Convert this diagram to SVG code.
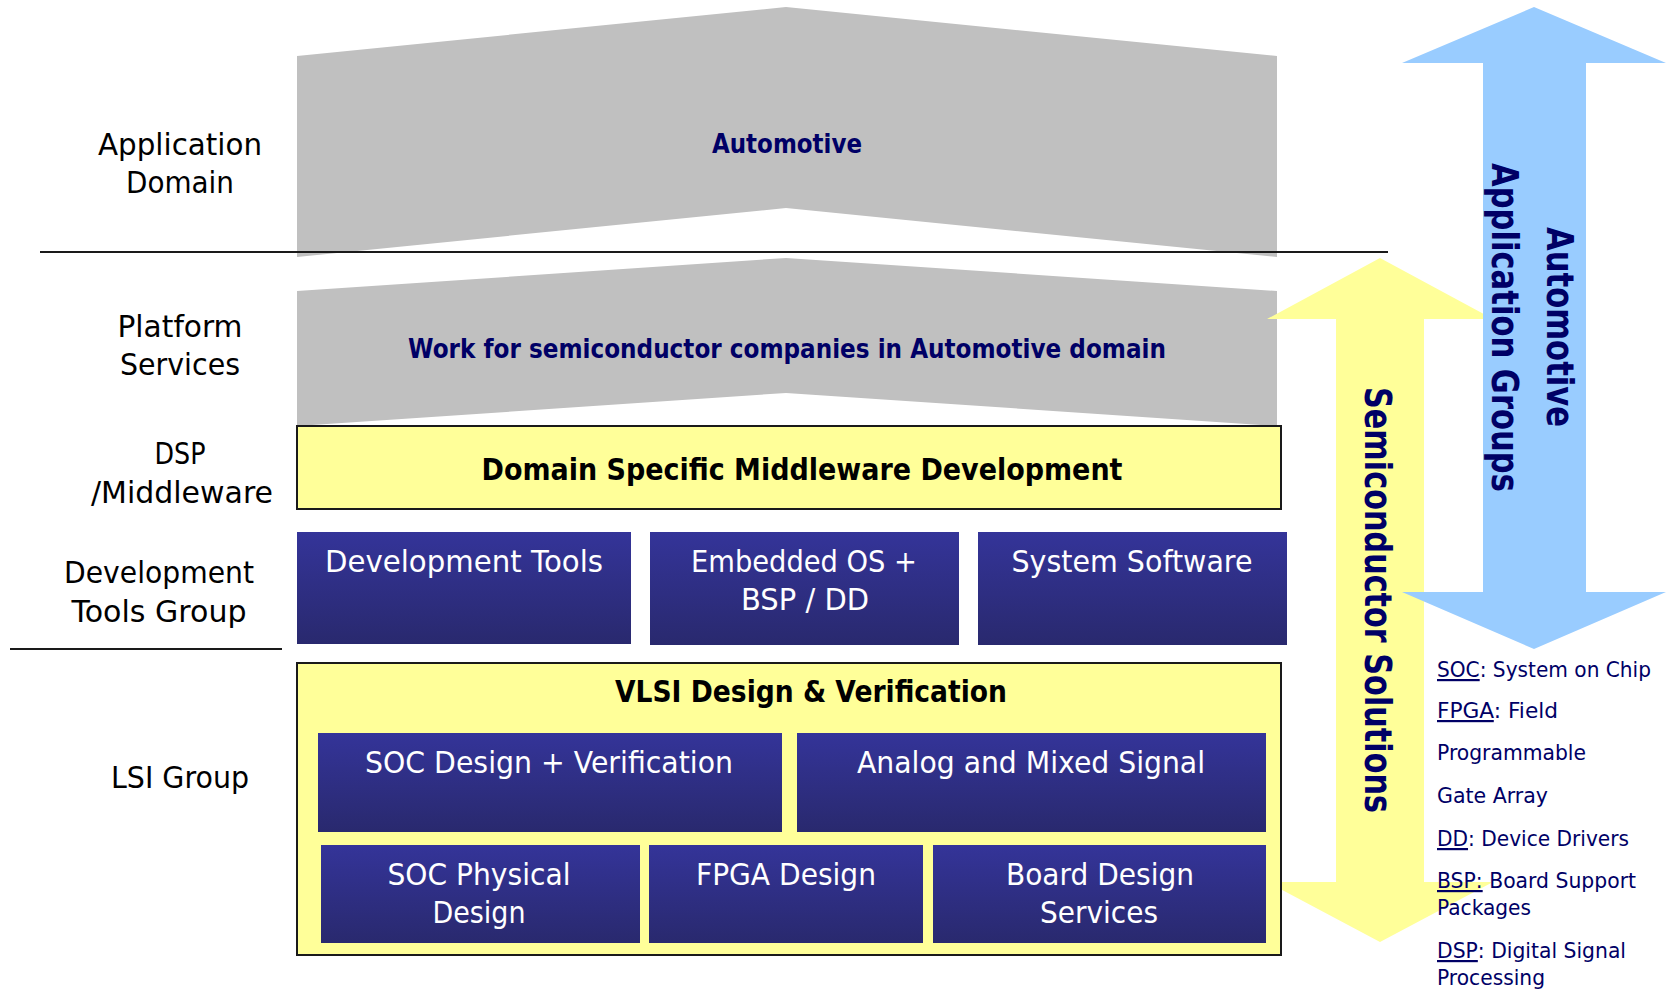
<svg xmlns="http://www.w3.org/2000/svg" width="1671" height="994" viewBox="0 0 1671 994">
<defs>
<linearGradient id="boxGrad" x1="0" y1="0" x2="0" y2="1">
<stop offset="0" stop-color="#343499"/>
<stop offset="1" stop-color="#29296E"/>
</linearGradient>
<style>
text{font-family:"DejaVu Sans",Verdana,Tahoma,sans-serif;text-anchor:middle}
.lbl{font-size:30px;fill:#000}
.gt{font-size:27px;font-weight:bold;fill:#000066}
.tt{font-size:31px;font-weight:bold;fill:#000}
.bt{font-size:31px;fill:#fff}
.leg{font-size:22px;fill:#000066;text-anchor:start}
.vt{font-size:38px;font-weight:bold;fill:#000066;text-anchor:start}
.gray{fill:#C0C0C0}
.ybox{fill:#FFFF99;stroke:#1a1a1a;stroke-width:2}
.bbox{fill:url(#boxGrad)}
.sep{stroke:#1a1a1a;stroke-width:2}
</style>
</defs>
<rect width="1671" height="994" fill="#fff"/>

<g id="application-domain">
<polygon class="gray" points="297,56 786,7 1277,56 1277,257 786,208 297,257"/>
<text class="gt" x="787" y="153" textLength="150" lengthAdjust="spacingAndGlyphs">Automotive</text>
</g>

<g id="platform-services">
<polygon class="gray" points="297,291 786,258 1277,291 1277,426 786,393 297,426"/>
<text class="gt" x="787" y="358" textLength="758" lengthAdjust="spacingAndGlyphs">Work for semiconductor companies in Automotive domain</text>
</g>

<g id="separators">
<line class="sep" x1="40" y1="252" x2="1388" y2="252"/>
<line class="sep" x1="10" y1="649" x2="282" y2="649"/>
</g>

<g id="connectors">
<g id="semiconductor-arrow">
<polygon fill="#FFFF99" points="1380,258 1493,319 1424,319 1424,882 1493,882 1380,942 1267,882 1336,882 1336,319 1267,319"/>
<text class="vt" transform="translate(1365,387) rotate(90)" textLength="426" lengthAdjust="spacingAndGlyphs">Semiconductor Solutions</text>
</g>
<g id="automotive-arrow">
<polygon fill="#99CCFF" points="1534,7 1666,63 1586,63 1586,592 1666,592 1534,649 1402,592 1483,592 1483,63 1402,63"/>
<text class="vt" transform="translate(1547,227) rotate(90)" textLength="200" lengthAdjust="spacingAndGlyphs">Automotive</text>
<text class="vt" transform="translate(1492,163) rotate(90)" textLength="329" lengthAdjust="spacingAndGlyphs">Application Groups</text>
</g>
</g>

<g id="left-labels">
<text class="lbl" x="180" y="155" textLength="164" lengthAdjust="spacingAndGlyphs">Application</text>
<text class="lbl" x="180" y="193" textLength="108" lengthAdjust="spacingAndGlyphs">Domain</text>
<text class="lbl" x="180" y="337" textLength="125" lengthAdjust="spacingAndGlyphs">Platform</text>
<text class="lbl" x="180" y="375" textLength="120" lengthAdjust="spacingAndGlyphs">Services</text>
<text class="lbl" x="180" y="464" textLength="51" lengthAdjust="spacingAndGlyphs">DSP</text>
<text class="lbl" x="182" y="503" textLength="182" lengthAdjust="spacingAndGlyphs">/Middleware</text>
<text class="lbl" x="159" y="583" textLength="190" lengthAdjust="spacingAndGlyphs">Development</text>
<text class="lbl" x="159" y="622" textLength="175" lengthAdjust="spacingAndGlyphs">Tools Group</text>
<text class="lbl" x="180" y="788" textLength="138" lengthAdjust="spacingAndGlyphs">LSI Group</text>
</g>

<g id="middleware">
<rect class="ybox" x="297" y="426" width="984" height="83"/>
<text class="tt" x="802" y="480" textLength="641" lengthAdjust="spacingAndGlyphs">Domain Specific Middleware Development</text>
</g>

<g id="development-tools">
<rect class="bbox" x="297" y="532" width="334" height="112"/>
<text class="bt" x="464" y="572" textLength="278" lengthAdjust="spacingAndGlyphs">Development Tools</text>
</g>
<g id="embedded-os">
<rect class="bbox" x="650" y="532" width="309" height="113"/>
<text class="bt" x="804" y="572" textLength="226" lengthAdjust="spacingAndGlyphs">Embedded OS +</text>
<text class="bt" x="805" y="610" textLength="128" lengthAdjust="spacingAndGlyphs">BSP / DD</text>
</g>
<g id="system-software">
<rect class="bbox" x="978" y="532" width="309" height="113"/>
<text class="bt" x="1132" y="572" textLength="241" lengthAdjust="spacingAndGlyphs">System Software</text>
</g>

<g id="vlsi">
<rect class="ybox" x="297" y="663" width="984" height="292"/>
<text class="tt" x="811" y="702" textLength="392" lengthAdjust="spacingAndGlyphs">VLSI Design &amp; Verification</text>
</g>
<g id="soc-design">
<rect class="bbox" x="318" y="733" width="464" height="99"/>
<text class="bt" x="549" y="773" textLength="368" lengthAdjust="spacingAndGlyphs">SOC Design + Verification</text>
</g>
<g id="analog">
<rect class="bbox" x="797" y="733" width="469" height="99"/>
<text class="bt" x="1031" y="773" textLength="348" lengthAdjust="spacingAndGlyphs">Analog and Mixed Signal</text>
</g>
<g id="soc-physical">
<rect class="bbox" x="321" y="845" width="319" height="98"/>
<text class="bt" x="479" y="885" textLength="183" lengthAdjust="spacingAndGlyphs">SOC Physical</text>
<text class="bt" x="479" y="923" textLength="93" lengthAdjust="spacingAndGlyphs">Design</text>
</g>
<g id="fpga-design">
<rect class="bbox" x="649" y="845" width="274" height="98"/>
<text class="bt" x="786" y="885" textLength="180" lengthAdjust="spacingAndGlyphs">FPGA Design</text>
</g>
<g id="board-design">
<rect class="bbox" x="933" y="845" width="333" height="98"/>
<text class="bt" x="1100" y="885" textLength="188" lengthAdjust="spacingAndGlyphs">Board Design</text>
<text class="bt" x="1099" y="923" textLength="118" lengthAdjust="spacingAndGlyphs">Services</text>
</g>

<g id="legend">
<text class="leg" x="1437" y="677" textLength="214" lengthAdjust="spacingAndGlyphs"><tspan text-decoration="underline">SOC</tspan>: System on Chip</text>
<text class="leg" x="1437" y="718" textLength="121" lengthAdjust="spacingAndGlyphs"><tspan text-decoration="underline">FPGA</tspan>: Field</text>
<text class="leg" x="1437" y="760" textLength="149" lengthAdjust="spacingAndGlyphs">Programmable</text>
<text class="leg" x="1437" y="803" textLength="111" lengthAdjust="spacingAndGlyphs">Gate Array</text>
<text class="leg" x="1437" y="846" textLength="192" lengthAdjust="spacingAndGlyphs"><tspan text-decoration="underline">DD</tspan>: Device Drivers</text>
<text class="leg" x="1437" y="888" textLength="199" lengthAdjust="spacingAndGlyphs"><tspan text-decoration="underline">BSP:</tspan> Board Support</text>
<text class="leg" x="1437" y="915" textLength="94" lengthAdjust="spacingAndGlyphs">Packages</text>
<text class="leg" x="1437" y="958" textLength="189" lengthAdjust="spacingAndGlyphs"><tspan text-decoration="underline">DSP</tspan>: Digital Signal</text>
<text class="leg" x="1437" y="985" textLength="108" lengthAdjust="spacingAndGlyphs">Processing</text>
</g>
</svg>
